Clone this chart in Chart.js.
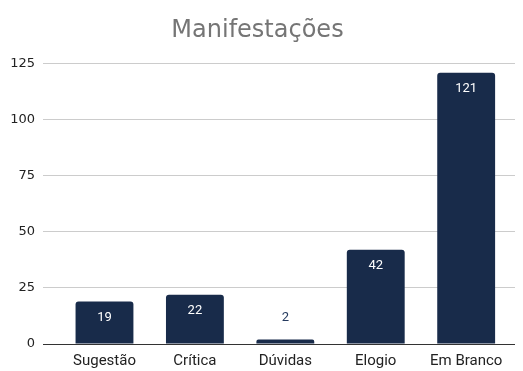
<!DOCTYPE html>
<html><head><meta charset="utf-8">
<script src="https://cdn.jsdelivr.net/npm/chart.js@4.4.1/dist/chart.umd.min.js"></script>
<style>html,body{margin:0;padding:0;background:#fff}#wrap{width:523px;height:371px}</style>
</head><body><div id="wrap"><canvas id="c" width="523" height="371"></canvas></div>
<script>
const categories = ["Sugestão","Crítica","Dúvidas","Elogio","Em Branco"];
const values = [19,22,2,42,121];
const yTicks = [0,25,50,75,100,125];
const titleText = "Manifestações";

const barColor = "#182b4a";
const labelPlugin = {
  id:'lbl',
  afterDatasetsDraw(chart){
    const ctx = chart.ctx;
    const meta = chart.getDatasetMeta(0);
    ctx.save();
    ctx.font = "13px Roboto";
    ctx.textAlign = "center";
    ctx.textBaseline = "middle";
    meta.data.forEach((el,i)=>{
      const v = values[i];
      const h = el.base - el.y;
      if (h > 24) { ctx.fillStyle = "#ffffff"; ctx.fillText(String(v), el.x, el.y + 16); }
      else { ctx.fillStyle = "#243a5e"; ctx.fillText(String(v), el.x, el.y - 22); }
    });
    ctx.restore();
  }
};

new Chart(document.getElementById('c'), {
  type:'bar',
  data:{ datasets:[{ data: values.map((v,i)=>({x:i,y:v})), backgroundColor: barColor, borderRadius:3, borderSkipped:'bottom', barPercentage:0.64, categoryPercentage:1 }]},
  options:{
    responsive:false, animation:false,
    layout:{ padding:{ left:0, right:8, top:0, bottom:0 } },
    plugins:{
      legend:{display:false}, tooltip:{enabled:false},
      title:{ display:true, text:titleText, color:"#757575", font:{family:"DejaVu Sans", size:24, weight:'normal'}, padding:{top:16,bottom:19} }
    },
    scales:{
      x:{ type:'linear', min:-0.68, max:4.54, offset:false,
        afterBuildTicks(s){ s.ticks = categories.map((c,i)=>({value:i})); },
        afterFit(s){ s.height = 27; },
        ticks:{ callback:(v)=>categories[v], color:"#222", font:{family:"Roboto", size:15}, padding:8, maxRotation:0, autoSkip:false },
        grid:{display:false, drawTicks:false}, border:{display:false} },
      y:{ min:0, max:125,
        afterBuildTicks(s){ s.ticks = yTicks.map(v=>({value:v})); },
        afterFit(s){ s.width = 43; },
        ticks:{ color:"#222", font:{family:"DejaVu Sans", size:13}, padding:8 },
        grid:{ color:(c)=> c.tick && c.tick.value===0 ? "#333333" : "#cccccc", drawTicks:false, lineWidth:1 },
        border:{display:false} }
    }
  },
  plugins:[labelPlugin]
});
</script></body></html>
